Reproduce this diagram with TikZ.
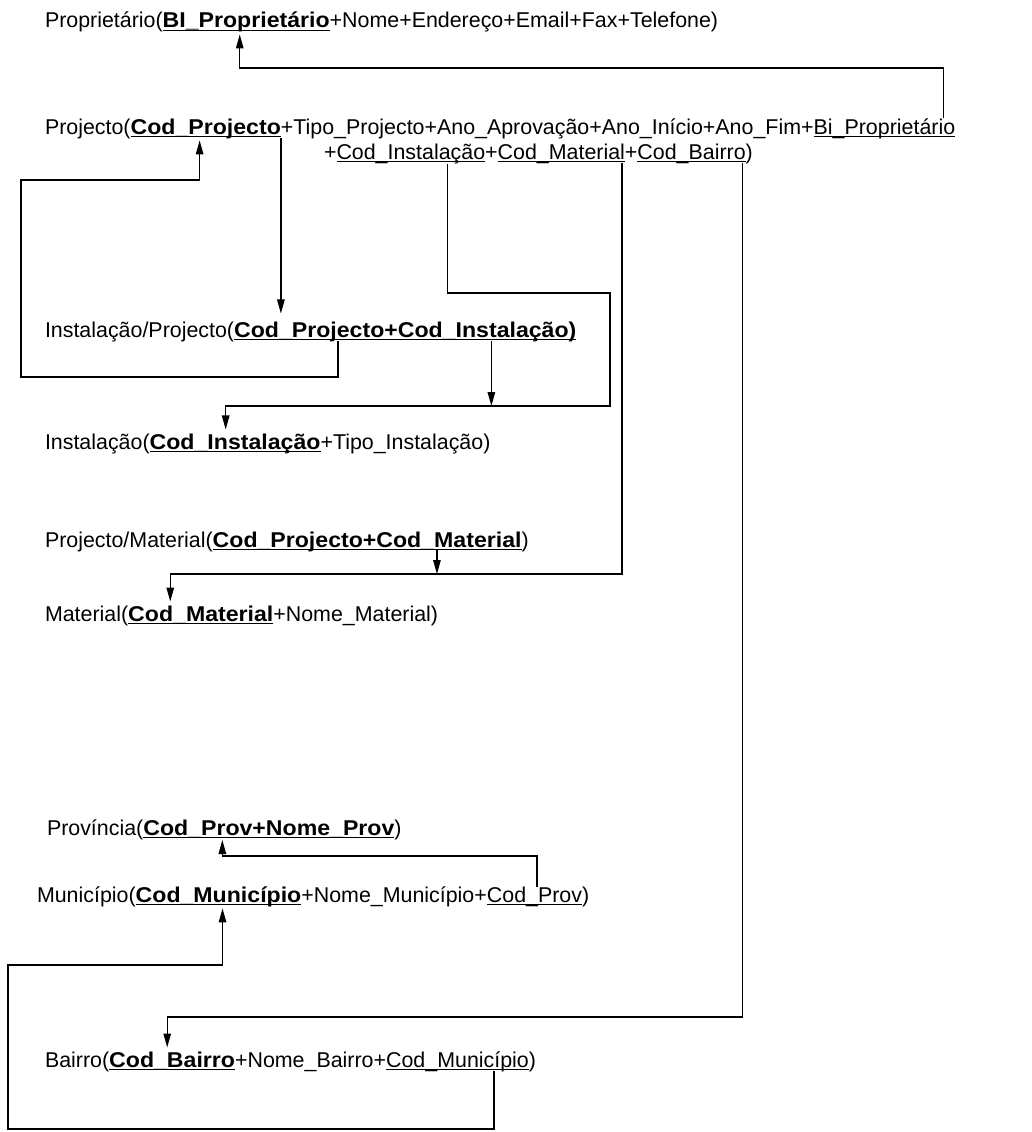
\documentclass[tikz,border=0pt]{standalone}
\usepackage{fontspec}
\setmainfont{Liberation Sans}[BoldFeatures={FakeStretch=1.08}]
\usetikzlibrary{arrows.meta,calc}

% key fields: bold and underlined; foreign keys: underlined only
\newsavebox\ulbox
\newcommand\keyfld[1]{\sbox\ulbox{\bfseries #1}\rlap{\rule[-3pt]{\wd\ulbox}{1.4pt}}\usebox\ulbox}
\newcommand\fkfld[1]{\sbox\ulbox{#1}\rlap{\rule[-3pt]{\wd\ulbox}{1.1pt}}\usebox\ulbox}

\begin{document}
\begin{tikzpicture}[x=1pt,y=-1pt,
  seg/.style={inner sep=0pt, outer sep=0pt, anchor=base west,
              font=\fontsize{21.4}{25}\selectfont},
  link/.style={line width=1.3pt},
  fkarrow/.style={link, -{Triangle[length=14pt,width=7.5pt]}},
]
\useasboundingbox (0,0) rectangle (1032,1132);

% ---------- relations ----------
% Proprietario
\node[seg] (pr0) at (45,28) {Proprietário(};
\node[seg] (prk) at (pr0.base east) {\keyfld{BI\_Proprietário}};
\node[seg] (pr1) at (prk.base east) {+Nome+Endereço+Email+Fax+Telefone)};

% Projecto (two lines)
\node[seg] (pj0) at (45,134) {Projecto(};
\node[seg] (pjk) at (pj0.base east) {\keyfld{Cod\_Projecto}};
\node[seg] (pj1) at (pjk.base east) {+Tipo\_Projecto+Ano\_Aprovação+Ano\_Início+Ano\_Fim+};
\node[seg] (pjbi) at (pj1.base east) {\fkfld{Bi\_Proprietário}};
\node[seg] (pj2) at (324,159) {+};
\node[seg] (pjci) at (pj2.base east) {\fkfld{Cod\_Instalação}};
\node[seg] (pj3) at (pjci.base east) {+};
\node[seg] (pjcm) at (pj3.base east) {\fkfld{Cod\_Material}};
\node[seg] (pj4) at (pjcm.base east) {+};
\node[seg] (pjcb) at (pj4.base east) {\fkfld{Cod\_Bairro}};
\node[seg] (pj5) at (pjcb.base east) {)};

% Instalacao/Projecto
\node[seg] (ip0) at (45,337) {Instalação/Projecto(};
\node[seg] (ipk1) at (ip0.base east) {\keyfld{Cod\_Projecto}};
\node[seg] (ipk2) at (ipk1.base east) {\keyfld{+Cod\_Instalação)}};

% Instalacao
\node[seg] (in0) at (45,449) {Instalação(};
\node[seg] (ik) at (in0.base east) {\keyfld{Cod\_Instalação}};
\node[seg] (in1) at (ik.base east) {+Tipo\_Instalação)};

% Projecto/Material
\node[seg] (pm0) at (45,547) {Projecto/Material(};
\node[seg] (pmk1) at (pm0.base east) {\keyfld{Cod\_Projecto}};
\node[seg] (pmk2) at (pmk1.base east) {\keyfld{+Cod\_Material}};
\node[seg] (pm1) at (pmk2.base east) {)};

% Material
\node[seg] (ma0) at (45,621) {Material(};
\node[seg] (mk) at (ma0.base east) {\keyfld{Cod\_Material}};
\node[seg] (ma1) at (mk.base east) {+Nome\_Material)};

% Provincia
\node[seg] (pv0) at (47,835) {Província(};
\node[seg] (pvk1) at (pv0.base east) {\keyfld{Cod\_Prov}};
\node[seg] (pvk2) at (pvk1.base east) {\keyfld{+Nome\_Prov}};
\node[seg] (pv1) at (pvk2.base east) {)};

% Municipio
\node[seg] (mu0) at (37,902) {Município(};
\node[seg] (muk) at (mu0.base east) {\keyfld{Cod\_Município}};
\node[seg] (mu1) at (muk.base east) {+Nome\_Município+};
\node[seg] (mucp) at (mu1.base east) {\fkfld{Cod\_Prov}};
\node[seg] (mu2) at (mucp.base east) {)};

% Bairro
\node[seg] (ba0) at (45,1067) {Bairro(};
\node[seg] (bk) at (ba0.base east) {\keyfld{Cod\_Bairro}};
\node[seg] (ba1) at (bk.base east) {+Nome\_Bairro+};
\node[seg] (bcm) at (ba1.base east) {\fkfld{Cod\_Município}};
\node[seg] (ba2) at (bcm.base east) {)};

% ---------- routing rails ----------
\coordinate (rTop) at (0,68);
\coordinate (rPj)  at (0,180);
\coordinate (xL1)  at (21,0);
\coordinate (rIp)  at (0,377);
\coordinate (rInT) at (0,293);
\coordinate (xR1)  at (610,0);
\coordinate (rInB) at (0,406);
\coordinate (rMa)  at (0,574);
\coordinate (rPv)  at (0,856);
\coordinate (rMu)  at (0,965);
\coordinate (rBa)  at (0,1017);
\coordinate (rBot) at (0,1129);
\coordinate (xL2)  at (8,0);

% ---------- foreign-key references ----------
% Projecto.Bi_Proprietario -> Proprietario
\coordinate (s1) at ([xshift=-12pt]pjbi.north east);
\coordinate (e1) at ([xshift=77pt,yshift=-2pt]prk.south west);
\draw[fkarrow] (s1) -- (s1 |- rTop) -| (e1);

% Instalacao/Projecto.Cod_Projecto -> Projecto
\coordinate (s2) at ([xshift=104pt]ipk1.south west);
\coordinate (e2) at ([xshift=69pt,yshift=-2pt]pjk.south west);
\draw[fkarrow] (s2) -- (s2 |- rIp) -| (xL1 |- rPj) -| (e2);

% Projecto.Cod_Projecto -> Instalacao/Projecto
\coordinate (s3) at (pjk.south east);
\draw[fkarrow] (s3) -- ($(s3 |- ipk1.north)+(0,-8)$);

% Projecto.Cod_Instalacao -> Instalacao
\coordinate (s4) at ([xshift=111pt]pjci.south west);
\draw[fkarrow] (s4) -- (s4 |- rInT) -| (xR1 |- rInB) -| ($(ik.north west)+(76,-4)$);

% Instalacao/Projecto.Cod_Instalacao -> Instalacao
\coordinate (s5) at ([xshift=107pt]ipk2.south west);
\draw[fkarrow] (s5) -- (s5 |- rInB);

% Projecto.Cod_Material -> Material
\coordinate (s7) at ([xshift=-3pt]pjcm.south east);
\draw[fkarrow] (s7) -- (s7 |- rMa) -| ($(mk.north west)+(42,-4)$);

% Projecto/Material.Cod_Material -> Material
\coordinate (s6) at ([xshift=74pt]pmk2.south west);
\draw[fkarrow] (s6) -- (s6 |- rMa);

% Municipio.Cod_Prov -> Provincia
\coordinate (s9) at ([xshift=50pt]mucp.north west);
\draw[fkarrow] (s9) -- (s9 |- rPv) -| ($(pvk1.south west)+(79,2)$);

% Projecto.Cod_Bairro -> Bairro
\coordinate (s8) at ([xshift=-3pt]pjcb.south east);
\draw[fkarrow] (s8) -- (s8 |- rBa) -| ($(bk.north west)+(58,-4)$);

% Bairro.Cod_Municipio -> Municipio
\coordinate (s10) at ([xshift=108pt]bcm.south west);
\draw[fkarrow] (s10) -- (s10 |- rBot) -| (xL2 |- rMu) -| ($(muk.south)+(4,2)$);
\end{tikzpicture}
\end{document}
